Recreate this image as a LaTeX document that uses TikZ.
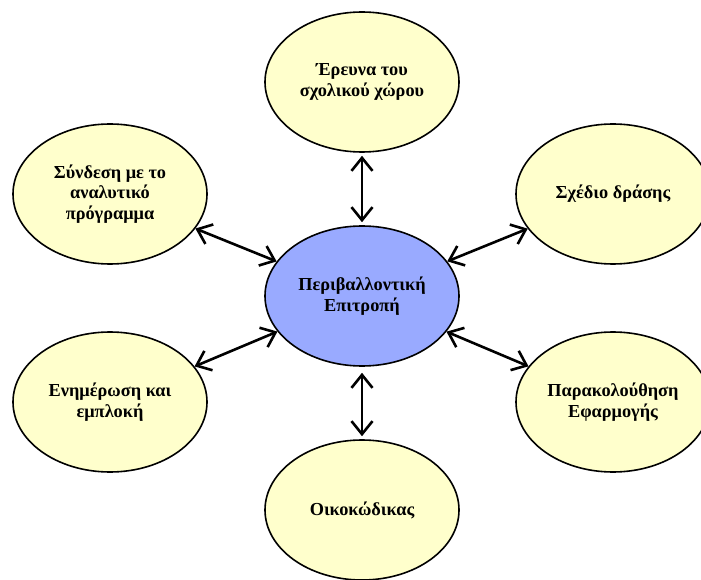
\documentclass[tikz,border=0pt]{standalone}
\usepackage{fontspec}
\setmainfont{Liberation Serif}
\usetikzlibrary{arrows.meta,shapes.geometric}
\definecolor{bubble}{RGB}{255,255,204}
\definecolor{hub}{RGB}{153,170,255}
\tikzset{
         bubble/.style=
          {
           shape=ellipse,draw,line width=1.6pt,fill=bubble,
           minimum width=194pt,minimum height=140pt,inner sep=0pt,
           align=center,font=\fontsize{18.3}{20.5}\selectfont\bfseries
          },
         link/.style=
          {
           line width=2.6pt,
           {Straight Barb[length=13pt,width=21pt,line width=2.6pt]}-{Straight Barb[length=13pt,width=21pt,line width=2.6pt]}
          }
        }

\begin{document}
\begin{tikzpicture}[x=1pt,y=1pt]
\useasboundingbox(0,0)rectangle(701,579);
%committee
\node[bubble,fill=hub](hub)at(362,283){Περιβαλλοντική\\Επιτροπή};
%activities
\node[bubble](survey)at(362,497){Έρευνα του\\σχολικού χώρου};
\node[bubble](plan)at(613,385){Σχέδιο δράσης};
\node[bubble](monitor)at(613,177){Παρακολούθηση\\Εφαρμογής};
\node[bubble](ecocode)at(362,69){Οικοκώδικας};
\node[bubble](inform)at(110,177){Ενημέρωση και\\εμπλοκή};
\node[bubble](syllabus)at(110,385){Σύνδεση με το\\αναλυτικό\\πρόγραμμα};
%links
\draw[link,shorten <=3pt,shorten >=3pt](hub)--(survey);
\draw[link](hub)--(plan);
\draw[link](hub)--(monitor);
\draw[link,shorten <=6pt,shorten >=3pt](hub)--(ecocode);
\draw[link](hub)--(inform);
\draw[link](hub)--(syllabus);
\end{tikzpicture}
\end{document}
